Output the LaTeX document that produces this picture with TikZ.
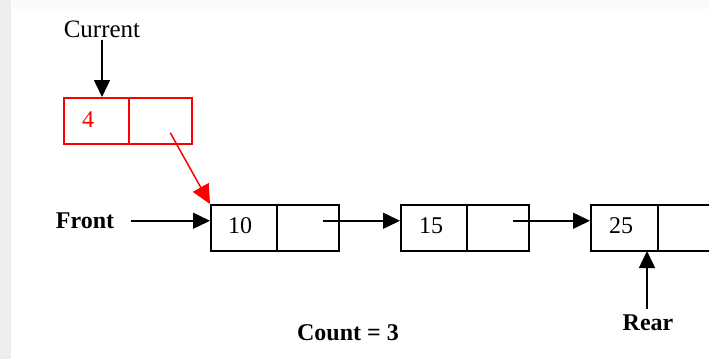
\documentclass[tikz,border=0pt]{standalone}
\usepackage{fontspec}
\setmainfont{Liberation Serif}
\usetikzlibrary{arrows.meta}
\definecolor{stripgray}{HTML}{EDEDEB}
\definecolor{topstrip}{HTML}{FAFAF8}
\tikzset{
  cell/.style={draw, line width=1.5pt, minimum height=46pt, inner sep=0pt, anchor=north west},
  redcell/.style={cell, draw=red, text=red},
  numtext/.style={font=\fontsize{24}{28}\selectfont},
  label/.style={font=\fontsize{24}{28}\selectfont\bfseries, inner sep=0pt},
  ptr/.style={line width=1.5pt, -{Triangle[length=17pt,width=16pt]}},
  redptr/.style={ptr, draw=red, -{Triangle[length=19pt,width=18pt,fill=red]}, color=red}
}
\begin{document}
\begin{tikzpicture}[x=1pt, y=-1pt]
  % canvas and page edges
  \fill[white] (0,0) rectangle (709,359);
  \fill[topstrip] (0,0) rectangle (709,9);
  \fill[stripgray] (0,0) rectangle (11,359);
  \useasboundingbox (0,0) rectangle (709,359);

  % the "current" node (red)
  \node[redcell, minimum width=65pt] (r1) at (63,97) {};
  \node[redcell, minimum width=63pt] (r2) at (128,97) {};
  \node[numtext, text=red] at (88,120) {4};

  % queue nodes
  \node[cell, minimum width=66pt] (d1) at (210,204) {};
  \node[cell, minimum width=62pt] (p1) at (276,204) {};
  \node[numtext] at (240,226) {10};
  \node[cell, minimum width=66pt] (d2) at (400,204) {};
  \node[cell, minimum width=62pt] (p2) at (466,204) {};
  \node[numtext] at (431,226) {15};
  \node[cell, minimum width=67pt] (d3) at (590,204) {};
  \node[cell, minimum width=66pt] (p3) at (657,204) {};
  \node[numtext] at (621,226) {25};

  % labels
  \node[font=\fontsize{25}{29}\selectfont, inner sep=2pt] (cur) at (102,29) {Current};
  \node[label] (front) at (85,221) {Front};
  \node[label] (rear) at (648,323) {Rear};
  \node[label] (count) at (348,333) {Count = 3};

  % pointer start and end points (links run a little above the cell middle)
  \coordinate (s0) at ([xshift=10pt,yshift=-12pt]r2.center);
  \coordinate (s1) at ([xshift=15pt,yshift=7pt]p1.center);
  \coordinate (s2) at ([xshift=15pt,yshift=7pt]p2.center);
  \coordinate (e1) at ([yshift=7pt]d1.west);
  \coordinate (e2) at ([yshift=7pt]d2.west);
  \coordinate (e3) at ([yshift=7pt]d3.west);
  \coordinate (rt) at (647,251);

  % connectors
  \draw[ptr] (cur.south) -- (cur.south |- r1.north);
  \draw[redptr] (s0) -- (d1.north west);
  \path (front.east) ++(17pt,0) coordinate (fa);
  \draw[ptr] (fa |- e1) -- (e1);
  \draw[ptr] (s1) -- (e2);
  \draw[ptr] (s2) -- (e3);
  \draw[ptr] ([yshift=6pt]rear.north -| rt) -- (rt);
\end{tikzpicture}
\end{document}
